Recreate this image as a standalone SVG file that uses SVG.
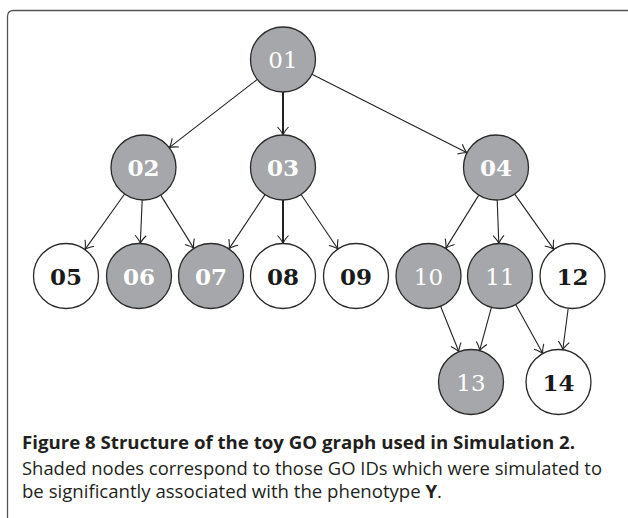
<svg xmlns="http://www.w3.org/2000/svg" width="628" height="518" viewBox="0 0 628 518">
<style>
.n circle{stroke:#2a2a2a;stroke-width:1.3}
.g circle{fill:#a6a7aa}
.w circle{fill:#ffffff}
.n text{font-family:"DejaVu Serif","Liberation Serif",serif;font-size:23px;text-anchor:middle}
.g text{fill:#ffffff;font-weight:bold}
.w text{fill:#1a1a1a;font-weight:bold}
.g text.r{font-weight:normal}
.e path{fill:none;stroke:#222;stroke-width:1.1}
.e path.t{stroke-width:2}
.cap{font-family:"Open Sans","Noto Sans","Liberation Sans",sans-serif;font-size:17.5px;fill:#231f20}
</style>
<defs>
<marker id="ah" markerUnits="userSpaceOnUse" markerWidth="20" markerHeight="20" refX="0" refY="0" viewBox="-10 -10 20 20" orient="auto" overflow="visible">
<path d="M-8,-5.5 Q-3,-1 0,0 Q-3,1 -8,5.5" fill="none" stroke="#222" stroke-width="1.1"/>
</marker>
</defs>
<rect width="628" height="518" fill="#ffffff"/>
<path d="M7.5,518 L7.5,16.5 Q7.5,10.5 13.5,10.5 L628,10.5" fill="none" stroke="#555" stroke-width="1.3"/>
<g id="edges" class="e">
<path d="M257.3,79.4 L169.2,147.6" marker-end="url(#ah)"/>
<path class="t" d="M283,92 L283,135" marker-end="url(#ah)"/>
<path d="M312.0,74.2 L467.0,152.8" marker-end="url(#ah)"/>
<path d="M124.6,194.0 L84.9,249.6" marker-end="url(#ah)"/>
<path d="M142.2,200.0 L140.3,243.5" marker-end="url(#ah)"/>
<path d="M160.7,195.1 L193.8,248.4" marker-end="url(#ah)"/>
<path d="M265.0,194.6 L229.0,248.9" marker-end="url(#ah)"/>
<path class="t" d="M283,200 L283,243.5" marker-end="url(#ah)"/>
<path d="M301.1,194.5 L337.9,249.0" marker-end="url(#ah)"/>
<path d="M478.8,195.1 L445.7,248.4" marker-end="url(#ah)"/>
<path d="M497.2,200.0 L498.8,243.5" marker-end="url(#ah)"/>
<path d="M514.7,194.1 L553.8,249.4" marker-end="url(#ah)"/>
<path d="M440.6,306.2 L458.9,351.8" marker-end="url(#ah)"/>
<path d="M491.4,307.4 L479.6,350.7" marker-end="url(#ah)"/>
<path d="M515.7,304.5 L542.8,353.6" marker-end="url(#ah)"/>
<path d="M568.2,308.2 L562.8,349.8" marker-end="url(#ah)"/>
</g>
<g id="n01" class="n g"><circle cx="283" cy="59.5" r="32.5"/><text class="r" x="283" y="68">01</text></g>
<g id="n02" class="n g"><circle cx="143.5" cy="167.5" r="32.5"/><text x="143.5" y="176">02</text></g>
<g id="n03" class="n g"><circle cx="283" cy="167.5" r="32.5"/><text x="283" y="176">03</text></g>
<g id="n04" class="n g"><circle cx="496" cy="167.5" r="32.5"/><text x="496" y="176">04</text></g>
<g id="n05" class="n w"><circle cx="66" cy="276" r="32.5"/><text x="66" y="284.5">05</text></g>
<g id="n06" class="n g"><circle cx="139" cy="276" r="32.5"/><text x="139" y="284.5">06</text></g>
<g id="n07" class="n g"><circle cx="211" cy="276" r="32.5"/><text x="211" y="284.5">07</text></g>
<g id="n08" class="n w"><circle cx="283" cy="276" r="32.5"/><text x="283" y="284.5">08</text></g>
<g id="n09" class="n w"><circle cx="356" cy="276" r="32.5"/><text x="356" y="284.5">09</text></g>
<g id="n10" class="n g"><circle cx="428.5" cy="276" r="32.5"/><text class="r" x="428.5" y="284.5">10</text></g>
<g id="n11" class="n g"><circle cx="500" cy="276" r="32.5"/><text class="r" x="500" y="284.5">11</text></g>
<g id="n12" class="n w"><circle cx="572.5" cy="276" r="32.5"/><text x="572.5" y="284.5">12</text></g>
<g id="n13" class="n g"><circle cx="471" cy="382" r="32.5"/><text class="r" x="471" y="390.5">13</text></g>
<g id="n14" class="n w"><circle cx="558.5" cy="382" r="32.5"/><text x="558.5" y="390.5">14</text></g>
<g id="caption">
<text class="cap" x="22" y="449" font-weight="bold" textLength="553" lengthAdjust="spacingAndGlyphs">Figure 8 Structure of the toy GO graph used in Simulation 2.</text>
<text class="cap" x="22" y="475" textLength="580" lengthAdjust="spacingAndGlyphs">Shaded nodes correspond to those GO IDs which were simulated to</text>
<text class="cap" x="22" y="498" textLength="420" lengthAdjust="spacingAndGlyphs">be significantly associated with the phenotype <tspan font-weight="bold">Y</tspan>.</text>
</g>
</svg>
